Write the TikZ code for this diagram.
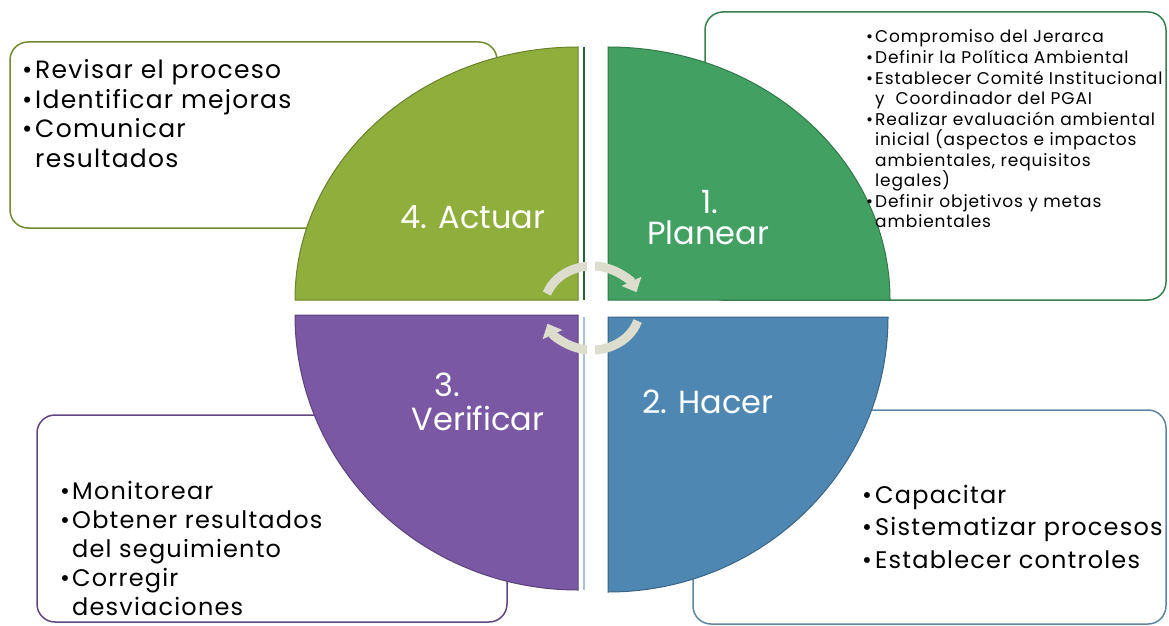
\documentclass[tikz,border=0pt]{standalone}
\usepackage{fontspec}
\setmainfont{Poppins}
\newfontfamily\gotica[LetterSpace=5]{Poppins}
\usetikzlibrary{arrows.meta}
\definecolor{actuar}{HTML}{8FAE3C}
\definecolor{planear}{HTML}{42A062}
\definecolor{verificar}{HTML}{7A58A4}
\definecolor{hacer}{HTML}{4F87B3}
\definecolor{ciclo}{HTML}{DCDDCC}
\newcommand{\pto}[1]{\makebox[#1][l]{\textbullet}}
\begin{document}
\begin{tikzpicture}[x=1pt,y=1pt,
  caja/.style={draw, line width=1.5pt, rounded corners=18pt, fill=white},
  lista/.style={anchor=base west, align=left, inner sep=0pt, font=\gotica\fontsize{25}{29.5}\selectfont},
  chica/.style={lista, font=\gotica\fontsize{17}{20.5}\selectfont},
  etapa/.style={anchor=base, inner sep=0pt, white, font=\fontsize{32}{32}\selectfont},
  cuarto/.style={line width=1pt},
  flecha/.style={line width=9pt, draw=ciclo, -{Triangle[width=21pt,length=12pt]}}]

\useasboundingbox (0,0) rectangle (1169,625);

\draw[caja, draw=actuar!80!black] (10,397) rectangle (497,583);
\draw[caja, draw=planear!80!black] (705,325) rectangle (1166,613);
\draw[caja, draw=verificar!80!black] (37,3) rectangle (507,210);
\draw[caja, draw=hacer!70!gray] (693,1) rectangle (1166,215);

\filldraw[cuarto, fill=actuar, draw=actuar!75!black] (578,325) -- (578,578) arc[start angle=90, end angle=180, x radius=283, y radius=253] -- cycle;
\filldraw[cuarto, fill=planear, draw=planear!75!black] (608,325) -- (608,578) arc[start angle=90, end angle=0, x radius=282, y radius=253] -- cycle;
\filldraw[cuarto, fill=verificar, draw=verificar!75!black] (578,310) -- (578,35) arc[start angle=270, end angle=180, x radius=283, y radius=275] -- cycle;
\filldraw[cuarto, fill=hacer, draw=hacer!75!black] (608,308) -- (608,33) arc[start angle=270, end angle=360, x radius=280, y radius=275] -- cycle;
\draw[planear!60!black, line width=1.5pt] (584,578) -- (584,325);
\draw[hacer!50!white, line width=1.5pt] (584,308) -- (584,35);

\draw[flecha] (592,317) ++(160:48 and 42) arc[start angle=160, end angle=22, x radius=48, y radius=42];
\draw[flecha] (592,317) ++(-18:48 and 42) arc[start angle=-18, end angle=-158, x radius=48, y radius=42];
\fill[white] (587,260) rectangle (595,370);

\node[etapa] (actuar) at (473,397) {4. Actuar};
\node[etapa] (planear1) at (710,411) {1.};
\node[etapa] (planear2) at (708,381) {Planear};
\node[etapa] (verificar1) at (447,229) {3.};
\node[etapa] (verificar2) at (478,195) {Verificar};
\node[etapa] (hacer) at (708,212) {2. Hacer};

\node[lista] (listaactuar) at (22,457.5) {\pto{13pt}Revisar el proceso\\ \pto{13pt}Identificar mejoras\\ \pto{13pt}Comunicar\\ \hspace*{13pt}resultados};
\node[chica] (listaplanear) at (866,397.5) {\pto{9pt}Compromiso del Jerarca\\ \pto{9pt}Definir la Política Ambiental\\ \pto{9pt}Establecer Comité Institucional\\ \hspace*{9pt}y\ \ Coordinador del PGAI\\ \pto{9pt}Realizar evaluación ambiental\\ \hspace*{9pt}inicial (aspectos e impactos\\ \hspace*{9pt}ambientales, requisitos\\ \hspace*{9pt}legales)\\ \pto{9pt}Definir objetivos y metas\\ \hspace*{9pt}ambientales};
\node[lista, font=\gotica\fontsize{24}{29}\selectfont] (listaverificar) at (60,10) {\pto{12pt}Monitorear\\ \pto{12pt}Obtener resultados\\ \hspace*{12pt}del seguimiento\\ \pto{12pt}Corregir\\ \hspace*{12pt}desviaciones};
\node[lista, font=\gotica\fontsize{24}{32.5}\selectfont] (listahacer) at (862,57) {\pto{13pt}Capacitar\\ \pto{13pt}Sistematizar procesos\\ \pto{13pt}Establecer controles};

\end{tikzpicture}
\end{document}
